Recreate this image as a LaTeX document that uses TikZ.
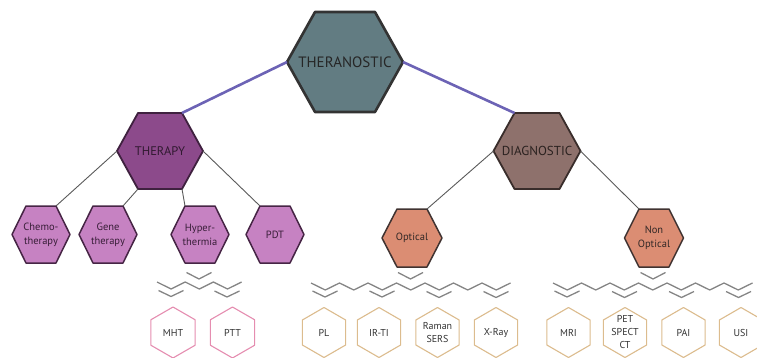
\documentclass[tikz,border=0pt]{standalone}
\usepackage{fontspec}
\setmainfont{PT Sans}
\definecolor{theraC}{HTML}{627C82}
\definecolor{therapyC}{HTML}{8C4A8B}
\definecolor{therapyL}{HTML}{C682C2}
\definecolor{diagC}{HTML}{8E716C}
\definecolor{diagL}{HTML}{DB8D73}
\definecolor{pinkB}{HTML}{E58DB0}
\definecolor{tanB}{HTML}{DCBC8E}
\definecolor{blueL}{HTML}{6C63B5}
\definecolor{zigC}{HTML}{858585}
% flat-top hexagon: name, cx, cy, half width, half top edge, half height, path style, text style, text
\newcommand{\hexF}[9]{%
  \path[#7] (#2-#4,#3) -- (#2-#5,#3-#6) -- (#2+#5,#3-#6) -- (#2+#4,#3) -- (#2+#5,#3+#6) -- (#2-#5,#3+#6) -- cycle;
  \coordinate (#1-l) at (#2-#4,#3);
  \coordinate (#1-r) at (#2+#4,#3);
  \coordinate (#1-tl) at (#2-#5,#3-#6);
  \coordinate (#1-tr) at (#2+#5,#3-#6);
  \coordinate (#1-bl) at (#2-#5,#3+#6);
  \coordinate (#1-br) at (#2+#5,#3+#6);
  \node[align=center,inner sep=0pt,#8] (#1) at (#2,#3) {#9};%
}
% pointy-top hexagon: name, cx, cy, radius, path style, text
\newcommand{\hexP}[6]{%
  \path[#5] (#2,#3-#4) -- (#2+0.866*#4,#3-0.5*#4) -- (#2+0.866*#4,#3+0.5*#4) -- (#2,#3+#4) -- (#2-0.866*#4,#3+0.5*#4) -- (#2-0.866*#4,#3-0.5*#4) -- cycle;
  \node[lvlfour] (#1) at (#2,#3) {#6};%
}
% double-bond chevron: apex x, end y, drop
\newcommand{\dbl}[3]{\draw[zig] (#1-12.5,#2) -- (#1,#2+#3) -- (#1+12.5,#2);}
\begin{document}
\begin{tikzpicture}[x=1pt,y=-1pt,line join=round,
  topF/.style={fill=theraC,draw=black!80,line width=2.6pt},
  midTh/.style={fill=therapyC,draw=therapyC!45!black,line width=1.8pt},
  lowTh/.style={fill=therapyL,draw=therapyC!50!black,line width=1.5pt},
  midDi/.style={fill=diagC,draw=diagC!40!black,line width=1.8pt},
  lowDi/.style={fill=diagL,draw=diagC!45!black,line width=1.5pt},
  pinkH/.style={fill=white,draw=pinkB,line width=1.1pt},
  tanH/.style={fill=white,draw=tanB,line width=1.1pt},
  lvlfour/.style={align=center,inner sep=0pt,font=\fontsize{10}{13}\selectfont,text=black!80},
  lvlthree/.style={font=\fontsize{10.5}{14}\selectfont},
  bluecon/.style={draw=blueL,line width=2.6pt},
  graycon/.style={draw=black!65,line width=0.9pt},
  zig/.style={draw=zigC,line width=1.3pt}]
\useasboundingbox (0,0) rectangle (757,358);

% top level
\hexF{T}{345}{62}{58}{30}{50}{topF}{font=\fontsize{15}{17}\selectfont,text=black!85}{THERANOSTIC}
% second level
\hexF{TH}{160}{151}{43}{22}{38}{midTh}{font=\fontsize{12.5}{14}\selectfont,text=therapyC!35!black}{THERAPY}
\hexF{D}{537}{151}{43.5}{22.5}{38}{midDi}{font=\fontsize{13}{15}\selectfont,text=diagC!30!black}{DIAGNOSTIC}
% third level
\hexF{C}{41}{234.5}{29}{15}{28.5}{lowTh}{lvlthree,text=therapyC!40!black}{Chemo-\\therapy}
\hexF{G}{108}{234.5}{29}{15}{28.5}{lowTh}{lvlthree,text=therapyC!40!black}{Gene\\therapy}
\hexF{H}{200}{234.5}{29}{15}{28.5}{lowTh}{lvlthree,text=therapyC!40!black}{Hyper-\\thermia}
\hexF{P}{275}{234.5}{29}{15}{28.5}{lowTh}{lvlthree,text=therapyC!40!black}{PDT}
\hexF{O}{412}{238}{30}{15}{29}{lowDi}{lvlthree,text=diagC!35!black}{Optical}
\hexF{N}{654}{238}{29.5}{15}{29}{lowDi}{lvlthree,text=diagC!35!black}{Non\\Optical}

% connectors
\draw[bluecon] (T-l) -- (TH-tr);
\draw[bluecon] (T-r) -- (D-tl);
\draw[graycon] (TH-l) -- (C-tr);
\draw[graycon] (TH-bl) -- (G-tr);
\draw[graycon] (TH-br) -- (H-tl);
\draw[graycon] (TH-r) -- (P-tl);
\draw[graycon] (D-l) -- (O-tr);
\draw[graycon] (D-r) -- (N-tl);

% zigzag chains
\draw[zig] (157,282) \foreach \i in {1,2,3} { -- ++(14.1,7) -- ++(14.1,-7)};
\dbl{171}{290.5}{6}
\dbl{199}{272.5}{6.5}
\dbl{227}{291}{6}

\draw[zig] (311,283) \foreach \i in {1,...,7} { -- ++(14.25,7) -- ++(14.25,-7)};
\dbl{325}{291}{6}
\dbl{382}{291}{6}
\dbl{410.5}{272.5}{6.5}
\dbl{439}{291.5}{6}
\dbl{496}{291.5}{6}

\draw[zig] (553,283) \foreach \i in {1,...,7} { -- ++(14.25,7) -- ++(14.25,-7)};
\dbl{567}{291}{6}
\dbl{624.5}{291.5}{6}
\dbl{653}{272.5}{6.5}
\dbl{681.5}{291.5}{6}
\dbl{738.5}{291.5}{6}

% fourth level
\hexP{MHT}{173}{332.5}{25.5}{pinkH}{MHT}
\hexP{PTT}{232.5}{332.5}{25.5}{pinkH}{PTT}
\hexP{PL}{324}{332.5}{25}{tanH}{PL}
\hexP{IRTI}{379}{332.5}{25}{tanH}{IR-TI}
\hexP{RS}{437.5}{332.5}{25}{tanH}{Raman\\SERS}
\hexP{XR}{496}{332.5}{25}{tanH}{X-Ray}
\hexP{MRI}{568.5}{332.5}{25}{tanH}{MRI}
\hexP{PET}{625}{332.5}{25}{tanH}{PET\\SPECT\\CT}
\hexP{PAI}{683.5}{332.5}{25}{tanH}{PAI}
\hexP{USI}{741}{332.5}{25}{tanH}{USI}
\end{tikzpicture}
\end{document}
